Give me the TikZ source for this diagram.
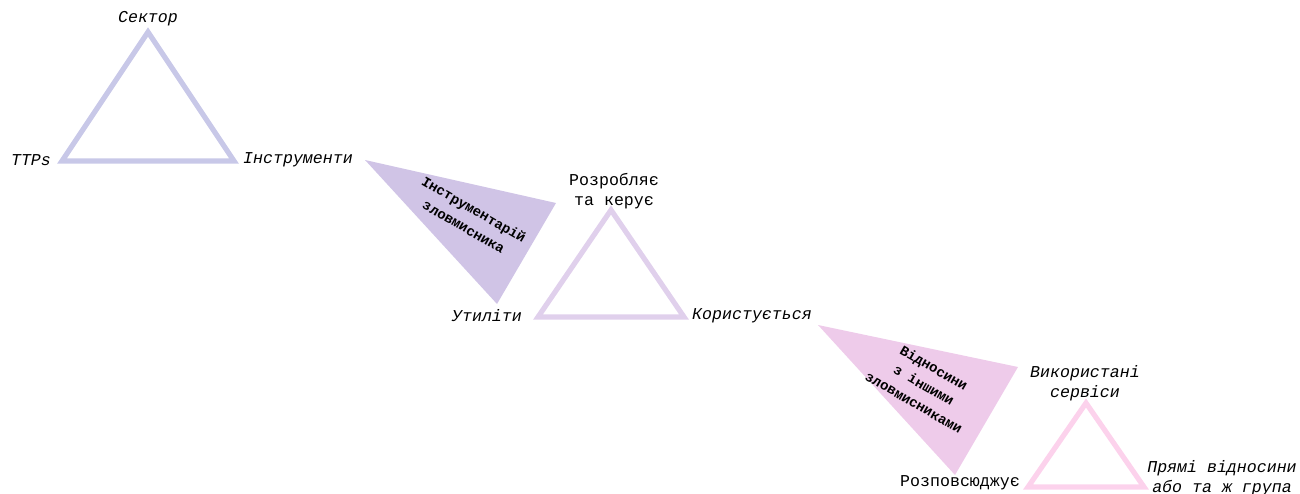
\documentclass[tikz,border=0pt]{standalone}
\usepackage{fontspec}
\setmonofont{Liberation Mono}

\tikzset{
  lbl/.style={font=\ttfamily\fontsize{8.3}{10}\selectfont, inner sep=1pt},
  ilbl/.style={font=\ttfamily\itshape\fontsize{8.3}{10}\selectfont, inner sep=1pt},
  wedgetext/.style={font=\ttfamily\bfseries\fontsize{7}{10}\selectfont, inner sep=0pt},
  tri/.style={line width=2.6pt, line join=miter}
}
\definecolor{triA}{HTML}{C8C8E8}
\definecolor{wedgeA}{HTML}{D0C4E6}
\definecolor{triB}{HTML}{E0D0EC}
\definecolor{wedgeB}{HTML}{EECBEA}
\definecolor{triC}{HTML}{FCD2EC}

\begin{document}
\begin{tikzpicture}[x=0.5pt,y=-0.5pt, every node/.style={align=center}]
\useasboundingbox (0,0) rectangle (1300,493);

% first triangle
\coordinate (a top) at (148,32);
\coordinate (a left) at (62,161);
\coordinate (a right) at (234,161);
\draw[tri, triA] (a top) -- (a left) -- (a right) -- cycle;
\node[ilbl] (sector) at (148,19) {Сектор};
\node[ilbl] (ttps) at (31,160) {TTPs};
\node[ilbl] (tools) at (298,160) {Інструменти};

% wedge between first and second
\coordinate (w1 a) at (365,160);
\coordinate (w1 b) at (556,203);
\coordinate (w1 c) at (497,304);
\fill[wedgeA] (w1 a) -- (w1 b) -- (w1 c) -- cycle;
\node[wedgetext, rotate=-30] (kit) at (469,218) {Інструментарій\\зловмисника};

% second triangle
\coordinate (b top) at (611,210);
\coordinate (b left) at (538,317);
\coordinate (b right) at (684,317);
\draw[tri, triB] (b top) -- (b left) -- (b right) -- cycle;
\node[lbl] (develops) at (614,191) {Розробляє\\та керує};
\node[ilbl] (utils) at (487,316) {Утиліти};
\node[ilbl] (uses) at (752,316) {Користується};

% wedge between second and third
\coordinate (w2 a) at (818,325);
\coordinate (w2 b) at (1018,367);
\coordinate (w2 c) at (955,475);
\fill[wedgeB] (w2 a) -- (w2 b) -- (w2 c) -- cycle;
\node[wedgetext, rotate=-30] (relations) at (924,385) {Відносини\\з іншими\\зловмисниками};

% third triangle
\coordinate (c top) at (1086,403);
\coordinate (c left) at (1028,487);
\coordinate (c right) at (1144,487);
\draw[tri, triC] (c top) -- (c left) -- (c right) -- cycle;
\node[ilbl] (services) at (1085,383) {Використані\\сервіси};
\node[lbl] (spreads) at (960,483) {Розповсюджує};
\node[ilbl] (direct) at (1222,478) {Прямі відносини\\або та ж група};
\end{tikzpicture}
\end{document}
